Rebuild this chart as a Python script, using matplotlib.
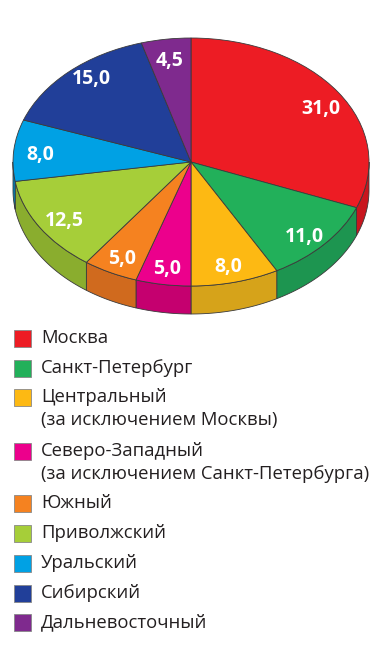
import numpy as np
import matplotlib
matplotlib.use("Agg")
import matplotlib.pyplot as plt
from matplotlib.patches import Wedge, Polygon, Rectangle
from matplotlib.transforms import Affine2D

# ---- data ----
regions = ["Москва", "Санкт-Петербург",
           "Центральный\n(за исключением Москвы)",
           "Северо-Западный\n(за исключением Санкт-Петербурга)",
           "Южный", "Приволжский", "Уральский", "Сибирский", "Дальневосточный"]
values = [31.0, 11.0, 8.0, 5.0, 5.0, 12.5, 8.0, 15.0, 4.5]
value_labels = ["31,0", "11,0", "8,0", "5,0", "5,0", "12,5", "8,0", "15,0", "4,5"]
top_colors = ["#ed1c24", "#22b05a", "#fdb913", "#ec008c", "#f58220",
              "#a6ce39", "#00a1e4", "#213f99", "#7f2a8e"]
side_colors = ["#c8161e", "#1d9550", "#d6a31a", "#c5006f", "#d06a1e",
               "#8aad2e", "#0085bd", "#1a3280", "#66206f"]

W, H = 380, 650
fig = plt.figure(figsize=(W / 100, H / 100), dpi=100)
ax = fig.add_axes([0, 0, 1, 1])
ax.set_xlim(0, W)
ax.set_ylim(0, H)
ax.axis("off")

cx, cy = 191, H - 162
rx, ry = 178, 124
depth = 28
edge = "#3a3a3a"
lw = 0.6

tr = Affine2D().scale(rx, ry).translate(cx, cy) + ax.transData

total = sum(values)
angles = [90.0]
for v in values:
    angles.append(angles[-1] - 360.0 * v / total)

# sides (visible lower half)
for i in range(len(values)):
    t_hi, t_lo = angles[i], angles[i + 1]
    for shift in (0, -360, 360):
        a = max(t_lo + shift, -180)
        b = min(t_hi + shift, 0)
        if b > a:
            t = np.radians(np.linspace(a, b, 80))
            xs = cx + rx * np.cos(t)
            ys = cy + ry * np.sin(t)
            pts = np.concatenate([np.column_stack([xs, ys]),
                                  np.column_stack([xs[::-1], ys[::-1] - depth])])
            ax.add_patch(Polygon(pts, closed=True, facecolor=side_colors[i],
                                 edgecolor=edge, linewidth=lw, zorder=1))

# top wedges
for i in range(len(values)):
    w = Wedge((0, 0), 1, angles[i + 1], angles[i], facecolor=top_colors[i],
              edgecolor=edge, linewidth=lw, transform=tr, zorder=2)
    ax.add_patch(w)

# value labels
offsets = {7: (4, 6), 0: (5, -6), 1: (0, -5), 5: (2, -4)}
for i, lab in enumerate(value_labels):
    mid = np.radians((angles[i] + angles[i + 1]) / 2)
    f = 0.85
    x = cx + rx * f * np.cos(mid)
    y = cy + ry * f * np.sin(mid)
    dx, dy = offsets.get(i, (0, -3))
    ax.text(x + dx, y + dy, lab, color="white", fontsize=14, fontweight="bold",
            family="Open Sans", ha="center", va="center", zorder=3)

# legend
row_y = [338, 368, 397, 451, 503, 533, 563, 593, 622]
line_gap = 23
for i, name in enumerate(regions):
    yc = H - row_y[i]
    ax.add_patch(Rectangle((13.5, yc - 8.5), 17, 17, facecolor=top_colors[i],
                           edgecolor="#888888", linewidth=0.6, zorder=2))
    for k, line in enumerate(name.split("\n")):
        ax.text(41, yc - k * line_gap, line, fontsize=13.3, family="Open Sans",
                color="#231f20", ha="left", va="center", zorder=3)

fig.savefig("out.png", dpi=100)
